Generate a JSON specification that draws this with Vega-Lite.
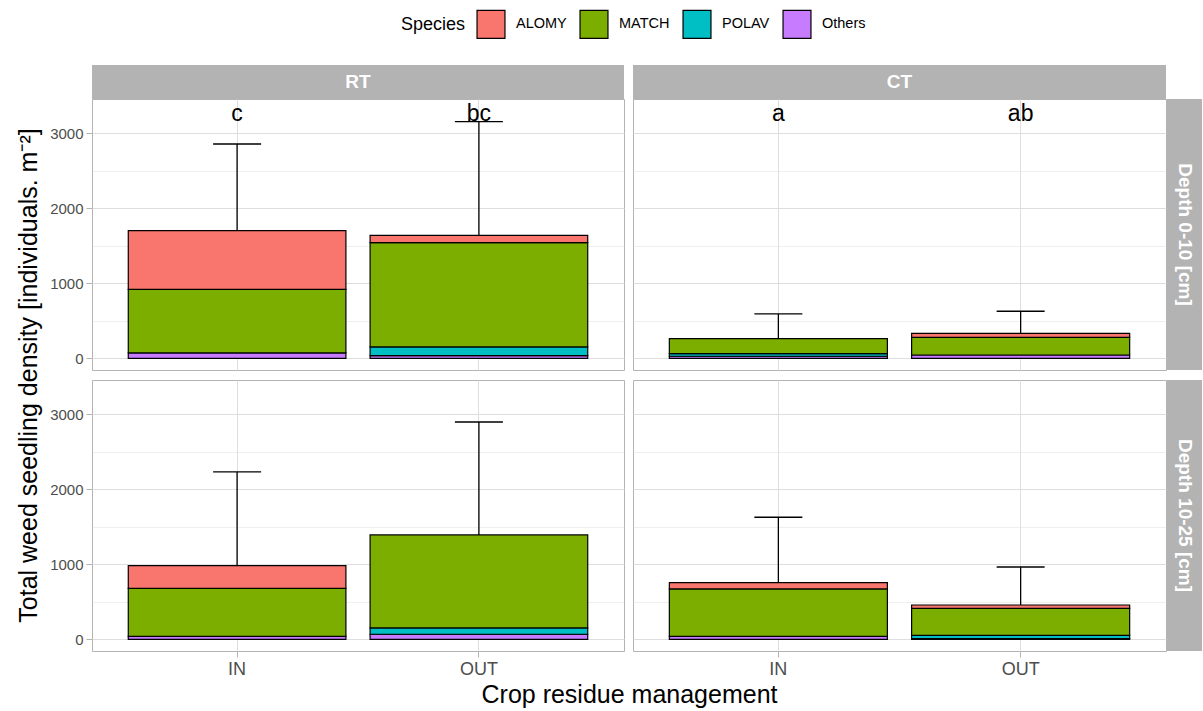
{
"$schema": "https://vega.github.io/schema/vega-lite/v6.json",
"background": "white",
"padding": {"left": 16, "top": 9, "right": 0, "bottom": 4},
"config": {
  "font": "Liberation Sans",
  "view": {"stroke": "#B3B3B3", "strokeWidth": 1},
  "legend": {"orient": "none", "legendX": 309, "legendY": -56, "direction": "horizontal", "titleOrient": "left", "titleFontSize": 18, "titleFontWeight": "normal", "titleColor": "black", "labelFontSize": 14.5, "labelColor": "black", "symbolType": "square", "symbolSize": 780, "symbolStrokeColor": "black", "symbolStrokeWidth": 1.2, "symbolOpacity": 1, "labelOffset": 10, "columnPadding": 10, "titlePadding": 10}
},
"datasets": {
  "bars": [
    {"Tillage": "RT", "Depth": "0-10", "Residue": "IN", "Species": "Others", "level": 4, "density": 71},
    {"Tillage": "RT", "Depth": "0-10", "Residue": "IN", "Species": "MATCH", "level": 2, "density": 849},
    {"Tillage": "RT", "Depth": "0-10", "Residue": "IN", "Species": "ALOMY", "level": 1, "density": 781},
    {"Tillage": "RT", "Depth": "0-10", "Residue": "OUT", "Species": "Others", "level": 4, "density": 35},
    {"Tillage": "RT", "Depth": "0-10", "Residue": "OUT", "Species": "POLAV", "level": 3, "density": 116},
    {"Tillage": "RT", "Depth": "0-10", "Residue": "OUT", "Species": "MATCH", "level": 2, "density": 1390},
    {"Tillage": "RT", "Depth": "0-10", "Residue": "OUT", "Species": "ALOMY", "level": 1, "density": 99},
    {"Tillage": "CT", "Depth": "0-10", "Residue": "IN", "Species": "Others", "level": 4, "density": 27},
    {"Tillage": "CT", "Depth": "0-10", "Residue": "IN", "Species": "POLAV", "level": 3, "density": 35},
    {"Tillage": "CT", "Depth": "0-10", "Residue": "IN", "Species": "MATCH", "level": 2, "density": 200},
    {"Tillage": "CT", "Depth": "0-10", "Residue": "OUT", "Species": "Others", "level": 4, "density": 44},
    {"Tillage": "CT", "Depth": "0-10", "Residue": "OUT", "Species": "MATCH", "level": 2, "density": 236},
    {"Tillage": "CT", "Depth": "0-10", "Residue": "OUT", "Species": "ALOMY", "level": 1, "density": 53},
    {"Tillage": "RT", "Depth": "10-25", "Residue": "IN", "Species": "Others", "level": 4, "density": 40},
    {"Tillage": "RT", "Depth": "10-25", "Residue": "IN", "Species": "MATCH", "level": 2, "density": 640},
    {"Tillage": "RT", "Depth": "10-25", "Residue": "IN", "Species": "ALOMY", "level": 1, "density": 301},
    {"Tillage": "RT", "Depth": "10-25", "Residue": "OUT", "Species": "Others", "level": 4, "density": 67},
    {"Tillage": "RT", "Depth": "10-25", "Residue": "OUT", "Species": "POLAV", "level": 3, "density": 84},
    {"Tillage": "RT", "Depth": "10-25", "Residue": "OUT", "Species": "MATCH", "level": 2, "density": 1240},
    {"Tillage": "CT", "Depth": "10-25", "Residue": "IN", "Species": "Others", "level": 4, "density": 40},
    {"Tillage": "CT", "Depth": "10-25", "Residue": "IN", "Species": "MATCH", "level": 2, "density": 631},
    {"Tillage": "CT", "Depth": "10-25", "Residue": "IN", "Species": "ALOMY", "level": 1, "density": 84},
    {"Tillage": "CT", "Depth": "10-25", "Residue": "OUT", "Species": "Others", "level": 4, "density": 10},
    {"Tillage": "CT", "Depth": "10-25", "Residue": "OUT", "Species": "POLAV", "level": 3, "density": 43},
    {"Tillage": "CT", "Depth": "10-25", "Residue": "OUT", "Species": "MATCH", "level": 2, "density": 360},
    {"Tillage": "CT", "Depth": "10-25", "Residue": "OUT", "Species": "ALOMY", "level": 1, "density": 44}
  ],
  "errs": [
    {"Tillage": "RT", "Depth": "0-10", "Residue": "IN", "total": 1701, "upper": 2857, "letter": "c"},
    {"Tillage": "RT", "Depth": "0-10", "Residue": "OUT", "total": 1640, "upper": 3155, "letter": "bc"},
    {"Tillage": "CT", "Depth": "0-10", "Residue": "IN", "total": 262, "upper": 591, "letter": "a"},
    {"Tillage": "CT", "Depth": "0-10", "Residue": "OUT", "total": 333, "upper": 627, "letter": "ab"},
    {"Tillage": "RT", "Depth": "10-25", "Residue": "IN", "total": 981, "upper": 2231, "letter": ""},
    {"Tillage": "RT", "Depth": "10-25", "Residue": "OUT", "total": 1391, "upper": 2897, "letter": ""},
    {"Tillage": "CT", "Depth": "10-25", "Residue": "IN", "total": 755, "upper": 1627, "letter": ""},
    {"Tillage": "CT", "Depth": "10-25", "Residue": "OUT", "total": 457, "upper": 964, "letter": ""}
  ]
},
"resolve": {"scale": {"color": "shared"}, "legend": {"color": "shared"}},
"bounds": "flush",
"align": "each",
"spacing": 0,
"columns": 5,
"concat": [
  {"width": 532, "height": 34, "data": {"values": [{"label": "RT"}]}, "mark": {"type": "text", "color": "white", "fontSize": 19, "fontWeight": "bold", "font": "Liberation Sans"}, "encoding": {"text": {"field": "label"}}, "view": {"fill": "#B3B3B3", "stroke": null}},
  {"width": 9, "height": 1, "data": {"values": [{}]}, "mark": {"type": "point", "opacity": 0}, "view": {"stroke": null}},
  {"width": 533, "height": 34, "data": {"values": [{"label": "CT"}]}, "mark": {"type": "text", "color": "white", "fontSize": 19, "fontWeight": "bold", "font": "Liberation Sans"}, "encoding": {"text": {"field": "label"}}, "view": {"fill": "#B3B3B3", "stroke": null}},
  {"width": 1, "height": 1, "data": {"values": [{}]}, "mark": {"type": "point", "opacity": 0}, "view": {"stroke": null}},
  {"width": 1, "height": 1, "data": {"values": [{}]}, "mark": {"type": "point", "opacity": 0}, "view": {"stroke": null}},

  {"width": 532, "height": 271,
   "encoding": {"x": {"field": "Residue", "type": "nominal", "scale": {"domain": ["IN", "OUT"], "paddingInner": 0.1, "paddingOuter": 0.15}, "axis": {"title": null, "labels": false, "ticks": false, "domain": false, "grid": true, "gridColor": "#DEDEDE", "gridWidth": 1, "bandPosition": 0.5}}},
   "resolve": {"axis": {"y": "independent"}},
   "layer": [
     {"data": {"name": "bars"}, "transform": [{"filter": "datum.Tillage === 'RT' && datum.Depth === '0-10'"}],
      "mark": {"type": "bar", "stroke": "black", "strokeWidth": 1.2, "opacity": 1},
      "encoding": {
        "y": {"field": "density", "type": "quantitative", "scale": {"domain": [-156, 3457], "nice": false, "zero": false},
              "axis": {"values": [0, 500, 1000, 1500, 2000, 2500, 3000], "format": "d", "labelExpr": "datum.value % 1000 === 0 ? datum.label : ''", "tickOpacity": {"condition": {"test": "datum.value % 1000 === 0", "value": 1}, "value": 0}, "gridColor": "#DEDEDE", "gridWidth": {"condition": {"test": "datum.value % 1000 === 0", "value": 1}, "value": 0.5}, "domain": false, "tickColor": "#B3B3B3", "tickSize": 6, "labelPadding": 3, "labelFontSize": 15, "labelColor": "#4D4D4D",
                       "title": "Total weed seedling density [individuals. m⁻²]", "titleFontSize": 25, "titleFontWeight": "normal", "titleColor": "black", "titleY": 276, "titlePadding": 8}},
        "color": {"field": "Species", "type": "nominal", "sort": ["ALOMY", "MATCH", "POLAV", "Others"], "scale": {"domain": ["ALOMY", "MATCH", "POLAV", "Others"], "range": ["#F8766D", "#7CAE00", "#00BFC4", "#C77CFF"]}, "legend": {"title": "Species"}},
        "order": {"field": "level", "sort": "descending"}}},
     {"data": {"name": "errs"}, "transform": [{"filter": "datum.Tillage === 'RT' && datum.Depth === '0-10'"}],
      "mark": {"type": "rule", "color": "black", "strokeWidth": 1.3},
      "encoding": {"y": {"field": "total", "type": "quantitative", "scale": {"domain": [-156, 3457], "nice": false, "zero": false}, "axis": null}, "y2": {"field": "upper"}}},
     {"data": {"name": "errs"}, "transform": [{"filter": "datum.Tillage === 'RT' && datum.Depth === '0-10'"}],
      "mark": {"type": "tick", "color": "black", "size": 48, "thickness": 1.3, "opacity": 1},
      "encoding": {"y": {"field": "upper", "type": "quantitative", "scale": {"domain": [-156, 3457], "nice": false, "zero": false}, "axis": null}}},
     {"data": {"name": "errs"}, "transform": [{"filter": "datum.Tillage === 'RT' && datum.Depth === '0-10'"}],
      "mark": {"type": "text", "fontSize": 23, "baseline": "alphabetic", "color": "black"},
      "encoding": {"y": {"datum": 3168, "type": "quantitative", "scale": {"domain": [-156, 3457], "nice": false, "zero": false}, "axis": null}, "text": {"field": "letter"}}}
   ]},
  {"width": 9, "height": 1, "data": {"values": [{}]}, "mark": {"type": "point", "opacity": 0}, "view": {"stroke": null}},
  {"width": 533, "height": 271,
   "encoding": {"x": {"field": "Residue", "type": "nominal", "scale": {"domain": ["IN", "OUT"], "paddingInner": 0.1, "paddingOuter": 0.15}, "axis": {"title": null, "labels": false, "ticks": false, "domain": false, "grid": true, "gridColor": "#DEDEDE", "gridWidth": 1, "bandPosition": 0.5}}},
   "resolve": {"axis": {"y": "independent"}},
   "layer": [
     {"data": {"name": "bars"}, "transform": [{"filter": "datum.Tillage === 'CT' && datum.Depth === '0-10'"}],
      "mark": {"type": "bar", "stroke": "black", "strokeWidth": 1.2, "opacity": 1},
      "encoding": {
        "y": {"field": "density", "type": "quantitative", "scale": {"domain": [-156, 3457], "nice": false, "zero": false},
              "axis": {"values": [0, 500, 1000, 1500, 2000, 2500, 3000], "labels": false, "ticks": false, "domain": false, "gridColor": "#DEDEDE", "gridWidth": {"condition": {"test": "datum.value % 1000 === 0", "value": 1}, "value": 0.5}, "title": null}},
        "color": {"field": "Species", "type": "nominal", "sort": ["ALOMY", "MATCH", "POLAV", "Others"], "scale": {"domain": ["ALOMY", "MATCH", "POLAV", "Others"], "range": ["#F8766D", "#7CAE00", "#00BFC4", "#C77CFF"]}, "legend": {"title": "Species"}},
        "order": {"field": "level", "sort": "descending"}}},
     {"data": {"name": "errs"}, "transform": [{"filter": "datum.Tillage === 'CT' && datum.Depth === '0-10'"}],
      "mark": {"type": "rule", "color": "black", "strokeWidth": 1.3},
      "encoding": {"y": {"field": "total", "type": "quantitative", "scale": {"domain": [-156, 3457], "nice": false, "zero": false}, "axis": null}, "y2": {"field": "upper"}}},
     {"data": {"name": "errs"}, "transform": [{"filter": "datum.Tillage === 'CT' && datum.Depth === '0-10'"}],
      "mark": {"type": "tick", "color": "black", "size": 48, "thickness": 1.3, "opacity": 1},
      "encoding": {"y": {"field": "upper", "type": "quantitative", "scale": {"domain": [-156, 3457], "nice": false, "zero": false}, "axis": null}}},
     {"data": {"name": "errs"}, "transform": [{"filter": "datum.Tillage === 'CT' && datum.Depth === '0-10'"}],
      "mark": {"type": "text", "fontSize": 23, "baseline": "alphabetic", "color": "black"},
      "encoding": {"y": {"datum": 3168, "type": "quantitative", "scale": {"domain": [-156, 3457], "nice": false, "zero": false}, "axis": null}, "text": {"field": "letter"}}}
   ]},
  {"width": 1, "height": 1, "data": {"values": [{}]}, "mark": {"type": "point", "opacity": 0}, "view": {"stroke": null}},
  {"width": 35, "height": 271, "data": {"values": [{"label": "Depth 0-10 [cm]"}]}, "mark": {"type": "text", "color": "white", "fontSize": 19, "fontWeight": "bold", "font": "Liberation Sans", "angle": 90}, "encoding": {"text": {"field": "label"}}, "view": {"fill": "#B3B3B3", "stroke": null}},

  {"width": 1, "height": 10, "data": {"values": [{}]}, "mark": {"type": "point", "opacity": 0}, "view": {"stroke": null}},
  {"width": 1, "height": 1, "data": {"values": [{}]}, "mark": {"type": "point", "opacity": 0}, "view": {"stroke": null}},
  {"width": 1, "height": 1, "data": {"values": [{}]}, "mark": {"type": "point", "opacity": 0}, "view": {"stroke": null}},
  {"width": 1, "height": 1, "data": {"values": [{}]}, "mark": {"type": "point", "opacity": 0}, "view": {"stroke": null}},
  {"width": 1, "height": 1, "data": {"values": [{}]}, "mark": {"type": "point", "opacity": 0}, "view": {"stroke": null}},

  {"width": 532, "height": 271,
   "encoding": {"x": {"field": "Residue", "type": "nominal", "scale": {"domain": ["IN", "OUT"], "paddingInner": 0.1, "paddingOuter": 0.15}, "axis": {"title": "Crop residue management", "titleFontSize": 25, "titleFontWeight": "normal", "titleColor": "black", "titleX": 537, "titlePadding": 4, "labelAngle": 0, "labelFontSize": 18, "labelColor": "#4D4D4D", "ticks": true, "tickColor": "#B3B3B3", "tickSize": 6, "labelPadding": 3, "domain": false, "grid": true, "gridColor": "#DEDEDE", "gridWidth": 1, "bandPosition": 0.5}}},
   "resolve": {"axis": {"y": "independent"}},
   "layer": [
     {"data": {"name": "bars"}, "transform": [{"filter": "datum.Tillage === 'RT' && datum.Depth === '10-25'"}],
      "mark": {"type": "bar", "stroke": "black", "strokeWidth": 1.2, "opacity": 1},
      "encoding": {
        "y": {"field": "density", "type": "quantitative", "scale": {"domain": [-156, 3457], "nice": false, "zero": false},
              "axis": {"values": [0, 500, 1000, 1500, 2000, 2500, 3000], "format": "d", "labelExpr": "datum.value % 1000 === 0 ? datum.label : ''", "tickOpacity": {"condition": {"test": "datum.value % 1000 === 0", "value": 1}, "value": 0}, "gridColor": "#DEDEDE", "gridWidth": {"condition": {"test": "datum.value % 1000 === 0", "value": 1}, "value": 0.5}, "domain": false, "tickColor": "#B3B3B3", "tickSize": 6, "labelPadding": 3, "labelFontSize": 15, "labelColor": "#4D4D4D", "title": null}},
        "color": {"field": "Species", "type": "nominal", "sort": ["ALOMY", "MATCH", "POLAV", "Others"], "scale": {"domain": ["ALOMY", "MATCH", "POLAV", "Others"], "range": ["#F8766D", "#7CAE00", "#00BFC4", "#C77CFF"]}, "legend": {"title": "Species"}},
        "order": {"field": "level", "sort": "descending"}}},
     {"data": {"name": "errs"}, "transform": [{"filter": "datum.Tillage === 'RT' && datum.Depth === '10-25'"}],
      "mark": {"type": "rule", "color": "black", "strokeWidth": 1.3},
      "encoding": {"y": {"field": "total", "type": "quantitative", "scale": {"domain": [-156, 3457], "nice": false, "zero": false}, "axis": null}, "y2": {"field": "upper"}}},
     {"data": {"name": "errs"}, "transform": [{"filter": "datum.Tillage === 'RT' && datum.Depth === '10-25'"}],
      "mark": {"type": "tick", "color": "black", "size": 48, "thickness": 1.3, "opacity": 1},
      "encoding": {"y": {"field": "upper", "type": "quantitative", "scale": {"domain": [-156, 3457], "nice": false, "zero": false}, "axis": null}}}
   ]},
  {"width": 9, "height": 1, "data": {"values": [{}]}, "mark": {"type": "point", "opacity": 0}, "view": {"stroke": null}},
  {"width": 533, "height": 271,
   "encoding": {"x": {"field": "Residue", "type": "nominal", "scale": {"domain": ["IN", "OUT"], "paddingInner": 0.1, "paddingOuter": 0.15}, "axis": {"title": null, "labelAngle": 0, "labelFontSize": 18, "labelColor": "#4D4D4D", "ticks": true, "tickColor": "#B3B3B3", "tickSize": 6, "labelPadding": 3, "domain": false, "grid": true, "gridColor": "#DEDEDE", "gridWidth": 1, "bandPosition": 0.5}}},
   "resolve": {"axis": {"y": "independent"}},
   "layer": [
     {"data": {"name": "bars"}, "transform": [{"filter": "datum.Tillage === 'CT' && datum.Depth === '10-25'"}],
      "mark": {"type": "bar", "stroke": "black", "strokeWidth": 1.2, "opacity": 1},
      "encoding": {
        "y": {"field": "density", "type": "quantitative", "scale": {"domain": [-156, 3457], "nice": false, "zero": false},
              "axis": {"values": [0, 500, 1000, 1500, 2000, 2500, 3000], "labels": false, "ticks": false, "domain": false, "gridColor": "#DEDEDE", "gridWidth": {"condition": {"test": "datum.value % 1000 === 0", "value": 1}, "value": 0.5}, "title": null}},
        "color": {"field": "Species", "type": "nominal", "sort": ["ALOMY", "MATCH", "POLAV", "Others"], "scale": {"domain": ["ALOMY", "MATCH", "POLAV", "Others"], "range": ["#F8766D", "#7CAE00", "#00BFC4", "#C77CFF"]}, "legend": {"title": "Species"}},
        "order": {"field": "level", "sort": "descending"}}},
     {"data": {"name": "errs"}, "transform": [{"filter": "datum.Tillage === 'CT' && datum.Depth === '10-25'"}],
      "mark": {"type": "rule", "color": "black", "strokeWidth": 1.3},
      "encoding": {"y": {"field": "total", "type": "quantitative", "scale": {"domain": [-156, 3457], "nice": false, "zero": false}, "axis": null}, "y2": {"field": "upper"}}},
     {"data": {"name": "errs"}, "transform": [{"filter": "datum.Tillage === 'CT' && datum.Depth === '10-25'"}],
      "mark": {"type": "tick", "color": "black", "size": 48, "thickness": 1.3, "opacity": 1},
      "encoding": {"y": {"field": "upper", "type": "quantitative", "scale": {"domain": [-156, 3457], "nice": false, "zero": false}, "axis": null}}}
   ]},
  {"width": 1, "height": 1, "data": {"values": [{}]}, "mark": {"type": "point", "opacity": 0}, "view": {"stroke": null}},
  {"width": 35, "height": 271, "data": {"values": [{"label": "Depth 10-25 [cm]"}]}, "mark": {"type": "text", "color": "white", "fontSize": 19, "fontWeight": "bold", "font": "Liberation Sans", "angle": 90}, "encoding": {"text": {"field": "label"}}, "view": {"fill": "#B3B3B3", "stroke": null}}
]
}
